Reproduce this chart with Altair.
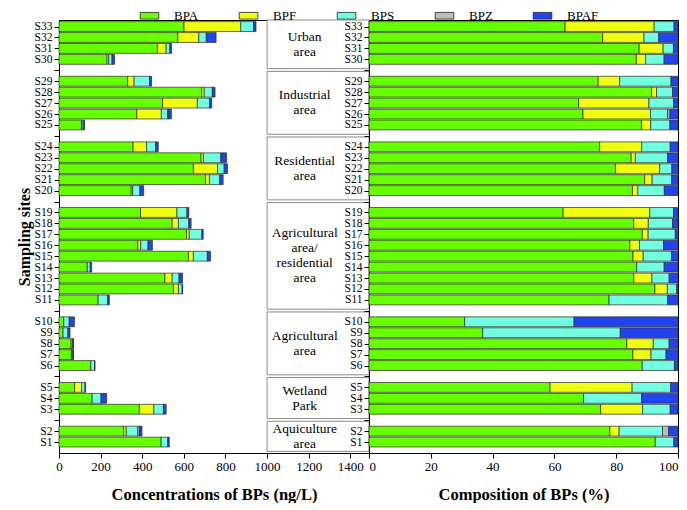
import altair as alt
import pandas as pd

samples = [f"S{i}" for i in range(1, 34)]
compounds = ["BPA", "BPF", "BPS", "BPZ", "BPAF"]
colors = ["#66FF00", "#F0FF10", "#72FFE0", "#BDBDBD", "#2244EE"]

# concentrations (ng/L), S1 ... S33
bpa = [491, 311, 386, 159, 75, 153, 59.7, 58.4, 19.5, 22.9,
       188, 550, 509, 136, 622, 379, 613, 544, 392,
       347, 704, 646, 683, 356,
       108, 374, 498, 686, 330,
       231, 473, 571, 601]
bpf = [0, 12, 70, 0, 34, 0, 4.1, 6.0, 0, 0,
       0, 24, 35, 0, 24, 14, 13, 30, 175,
       7, 19, 116, 11, 65,
       3.7, 118, 167, 12, 31,
       8, 42, 101, 273]
bps = [32, 56, 46, 43, 16, 18, 3.4, 3.6, 23.6, 26.2,
       46, 18, 33, 14, 67, 35, 61, 50, 48,
       35, 50, 32, 84, 44,
       7.6, 30, 59, 39, 74,
       16, 18, 36, 61]
bpz = [0, 8, 0, 0, 0, 0, 0, 0, 0, 0,
       0, 0, 0, 0, 0, 0, 0, 0, 0,
       0, 0, 0, 0, 0,
       0, 4, 0, 0, 0,
       0, 0, 0, 0]
bpaf = [7, 12, 13, 27, 3, 2, 2.7, 2.0, 9.9, 24.9,
        8, 2.4, 17, 7, 15, 21, 6, 11, 9,
        18, 16, 16, 27, 12,
        3.2, 14, 10, 13, 10,
        12, 8, 47, 12]
series = [bpa, bpf, bps, bpz, bpaf]

group_lines = [["Aquiculture", "area"], ["Wetland", "Park"], ["Agricultural", "area"],
               ["Agricultural", "area/", "residential", "area"], ["Residential", "area"],
               ["Industrial", "area"], ["Urban", "area"]]
group_sizes = [2, 3, 5, 9, 5, 5, 4]

FONT = "Liberation Serif"
TOP = 39.6
LEFT_MAX = 1490
PLOT_H = 433
LINE_H = 15
LINE_UNITS = LINE_H * TOP / PLOT_H  # one text line in y-scale units

# slot positions (one empty slot between groups)
pos = []
boxes = []
p = 0
for g, n in enumerate(group_sizes):
    lo = p + 1
    for _ in range(n):
        p += 1
        pos.append(p)
    hi = p
    y0 = max(lo - 0.85, 0.1)
    y1 = min(hi + 0.9, TOP)
    lines = group_lines[g]
    boxes.append(dict(x0=1000, x1=LEFT_MAX, y0=y0, y1=y1,
                      ty=(y0 + y1) / 2 + (len(lines) - 1) / 2 * LINE_UNITS, lines=lines))
    p += 1

labels = [""] * 41
for s, q in zip(samples, pos):
    labels[q] = s
label_expr = "[" + ",".join(f"'{l}'" for l in labels) + "][datum.value]"

rows = []
for i, s in enumerate(samples):
    for j, c in enumerate(compounds):
        v = series[j][i]
        if v > 0:
            rows.append(dict(sample=s, pos=pos[i], compound=c, order=j, value=v))
df = pd.DataFrame(rows)
box_df = pd.DataFrame([{k: b[k] for k in ("x0", "x1", "y0", "y1")} for b in boxes])
text_df = pd.DataFrame([dict(x0=1181, y0=b["ty"], lines=b["lines"]) for b in boxes])

yscale = alt.Scale(domain=[0, TOP], nice=False, zero=False)
ykw = dict(values=list(range(1, 40)), labelExpr=label_expr, tickSize=5,
           labelPadding=2, labelFontSize=11.5, labelOverlap=False, grid=False)
y_axis_left = alt.Axis(title="Sampling sites", titlePadding=2, titleFontSize=16, **ykw)
y_axis_right = alt.Axis(title=None, **ykw)

xkw = dict(tickSize=5, grid=False, format="d", labelFontSize=13, titlePadding=13,
           labelOverlap=False, titleFontSize=16.5)
x_axis_left = alt.Axis(values=[0, 200, 400, 600, 800, 1000, 1200, 1400], labelFlush=False,
                       title="Concentrations of BPs (ng/L)", **xkw)
x_axis_right = alt.Axis(values=[0, 20, 40, 60, 80, 100], labelFlush=True,
                        title="Composition of BPs (%)", **xkw)
xscale_left = alt.Scale(domain=[0, LEFT_MAX], nice=False)

color = alt.Color("compound:N", scale=alt.Scale(domain=compounds, range=colors),
                  legend=alt.Legend(title=None, orient="none", legendX=83, legendY=-12,
                                    direction="horizontal",
                                    symbolType="M-1.4,-0.5H1.4V0.5H-1.4Z", symbolSize=178,
                                    symbolStrokeColor="#222", symbolStrokeWidth=0.8,
                                    labelFont=FONT, labelFontSize=13, labelColor="black",
                                    columnPadding=38, labelOffset=17, padding=0))

bars_left = alt.Chart(df).transform_calculate(
    y0="datum.pos - 0.45", y1="datum.pos + 0.45"
).transform_stack(
    stack="value", groupby=["sample"], sort=[alt.SortField("order", "ascending")], as_=["x0", "x1"]
).mark_rect(stroke="#2a2a2a", strokeWidth=0.7).encode(
    x=alt.X("x0:Q", scale=xscale_left, axis=x_axis_left),
    x2="x1:Q",
    y=alt.Y("y0:Q", scale=yscale, axis=y_axis_left),
    y2="y1:Q",
    color=color,
)

box_layer = alt.Chart(box_df).mark_rect(fill="white", stroke="#8a8a8a", strokeWidth=1).encode(
    x=alt.X("x0:Q", scale=xscale_left, axis=x_axis_left), x2="x1:Q",
    y=alt.Y("y0:Q", scale=yscale, axis=y_axis_left), y2="y1:Q"
)
text_layer = alt.Chart(text_df).mark_text(
    font=FONT, fontSize=13.5, lineHeight=LINE_H, align="center", baseline="middle", color="black"
).encode(
    x=alt.X("x0:Q", scale=xscale_left, axis=x_axis_left),
    y=alt.Y("y0:Q", scale=yscale, axis=y_axis_left),
    text="lines",
)

left = alt.layer(bars_left, box_layer, text_layer).properties(width=310, height=PLOT_H)

right = alt.Chart(df).transform_calculate(
    y0="datum.pos - 0.45", y1="datum.pos + 0.45"
).transform_stack(
    stack="value", groupby=["sample"], sort=[alt.SortField("order", "ascending")],
    as_=["f0", "f1"], offset="normalize"
).transform_calculate(
    x0="datum.f0 * 100", x1="datum.f1 * 100"
).mark_rect(stroke="#2a2a2a", strokeWidth=0.7).encode(
    x=alt.X("x0:Q", scale=alt.Scale(domain=[0, 100], nice=False), axis=x_axis_right),
    x2="x1:Q",
    y=alt.Y("y0:Q", scale=yscale, axis=y_axis_right),
    y2="y1:Q",
    color=color,
).properties(width=309, height=PLOT_H)

chart = alt.hconcat(left, right, spacing=0, bounds="flush").properties(
    padding={"left": 7, "right": 0, "top": 0, "bottom": 0}
).configure(font=FONT).configure_view(stroke="black", strokeWidth=1).configure_axis(
    labelFont=FONT, labelFontSize=13, labelColor="black", tickColor="black",
    domainColor="black", titleFont=FONT, titleFontWeight="bold", titleFontSize=15,
    titleColor="black"
)

chart.save("out.html", embed_options={"renderer": "svg", "actions": False})
